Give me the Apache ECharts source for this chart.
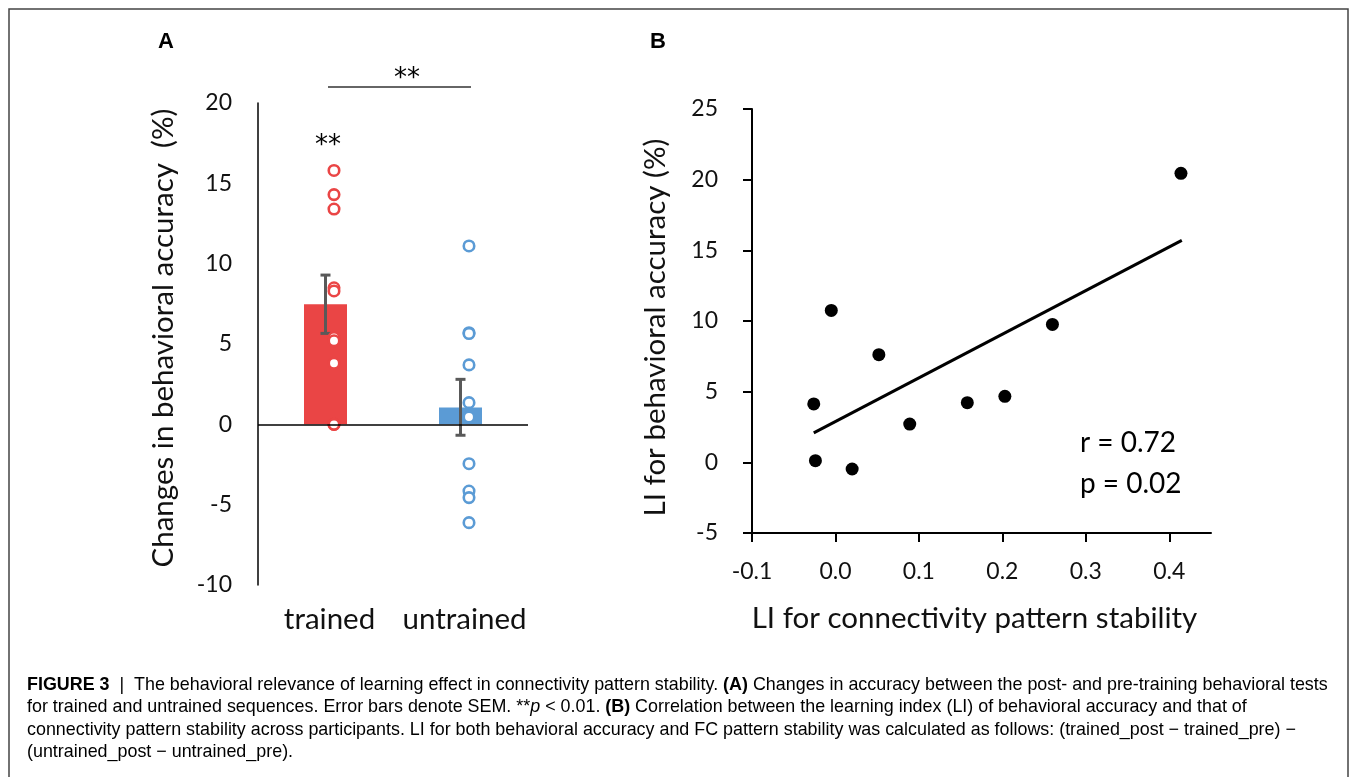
<!DOCTYPE html>
<html><head><meta charset="utf-8">
<script src="https://cdn.jsdelivr.net/npm/echarts@6/dist/echarts.min.js"></script>
<style>html,body{margin:0;padding:0;background:#fff}#c{width:1355px;height:777px}</style>
</head><body><div id="c"></div>
<script>
// ---- Panel A data ----
const categories = ['trained', 'untrained'];
const barMeans = [7.47, 1.04];
const semLow = [5.66, -0.68];
const semHigh = [9.29, 2.80];
const trainedPoints = [15.8, 14.3, 13.4, 8.5, 8.3, 5.4, 5.2, 3.8, 0, 0];
const untrainedPoints = [11.1, 5.7, 5.65, 3.7, 1.35, 0.46, -2.45, -4.15, -4.56, -6.12];
const yTicksA = [-10, -5, 0, 5, 10, 15, 20];
// ---- Panel B data ----
const liConnectivity = [0.414, -0.005, 0.052, 0.260, -0.026, -0.024, 0.020, 0.089, 0.158, 0.203];
const liBehavior = [20.45, 10.75, 7.62, 9.76, 4.13, 0.12, -0.47, 2.71, 4.22, 4.67];
const fitLineX = [-0.026, 0.415];
const fitLineY = [2.08, 15.7];
const xTicksB = [-0.1, 0.0, 0.1, 0.2, 0.3, 0.4];
const yTicksB = [-5, 0, 5, 10, 15, 20, 25];
const statText = ['r = 0.72', 'p = 0.02'];
// ---- Text ----
const panelLabels = ['A', 'B'];
const sigMark = '**';
const captionLines = [
  '{b|FIGURE 3}{n|  |  The behavioral relevance of learning effect in connectivity pattern stability. }{b|(A)}{n| Changes in accuracy between the post- and pre-training behavioral tests}',
  '{n|for trained and untrained sequences. Error bars denote SEM. **}{i|p}{n| < 0.01. }{b|(B)}{n| Correlation between the learning index (LI) of behavioral accuracy and that of}',
  '{n|connectivity pattern stability across participants. LI for both behavioral accuracy and FC pattern stability was calculated as follows: (trained_post \u2212 trained_pre) \u2212}',
  '{n|(untrained_post \u2212 untrained_pre).}'
];

const RED = '#EA4545', BLUE = '#5B9BD5';
const FONT = 'Lato';
const TITLE_SIZE = 29.5;
const chart = echarts.init(document.getElementById('c'), null, {renderer: 'canvas'});

const capFont = 'Liberation Sans';
const capSize = 17.9;
const capRich = {
  n: {fontFamily: capFont, fontSize: capSize, color: '#3a3a3a'},
  b: {fontFamily: capFont, fontSize: capSize, color: '#3a3a3a', fontWeight: 'bold'},
  i: {fontFamily: capFont, fontSize: capSize, color: '#3a3a3a', fontStyle: 'italic'}
};

const graphics = [
  {type: 'polyline', shape: {points: [[9, 780], [9, 9], [1348, 9], [1348, 780]]}, style: {stroke: '#444', lineWidth: 1.5, fill: null}},
  {type: 'text', left: 158, top: 31, style: {text: panelLabels[0], font: 'bold 22px "Liberation Sans"', fill: '#000'}},
  {type: 'text', left: 650, top: 31, style: {text: panelLabels[1], font: 'bold 22px "Liberation Sans"', fill: '#000'}},
  {type: 'line', shape: {x1: 328, y1: 87, x2: 471, y2: 87}, style: {stroke: '#333', lineWidth: 1.5}},
  {type: 'text', x: 407, y: 79, style: {text: sigMark, font: '26px "DejaVu Sans"', fill: '#000', align: 'center', verticalAlign: 'middle'}},
  {type: 'text', x: 328, y: 146, style: {text: sigMark, font: '26px "DejaVu Sans"', fill: '#000', align: 'center', verticalAlign: 'middle'}},
  {type: 'text', left: 1080, top: 429, style: {text: statText[0], font: '28px Lato', fill: '#000'}},
  {type: 'text', left: 1080, top: 470, style: {text: statText[1], font: '28px Lato', fill: '#000'}}
];
captionLines.forEach((ln, k) => {
  graphics.push({type: 'text', left: 27, top: 676 + k * 22.4, style: {text: ln, rich: capRich}});
});

const option = {
  animation: false,
  backgroundColor: '#fff',
  grid: [
    {left: 258, top: 103, width: 270, height: 482, containLabel: false},
    {left: 752, top: 109, width: 459, height: 424, containLabel: false}
  ],
  xAxis: [
    {type: 'category', gridIndex: 0, data: categories,
     axisLine: {show: false, onZero: false}, axisTick: {show: false},
     axisLabel: {interval: 0, margin: 19, fontFamily: FONT, fontSize: TITLE_SIZE, color: '#111', padding: [0, 0, 0, 8]}},
    {type: 'value', gridIndex: 1, min: -0.1, max: 0.45, interval: 0.1,
     name: 'LI for connectivity pattern stability', nameLocation: 'middle', nameGap: 70,
     nameTextStyle: {fontFamily: FONT, fontSize: TITLE_SIZE, color: '#111', padding: [0, 14, 0, 0]},
     axisLine: {onZero: false, lineStyle: {color: '#000', width: 2}},
     axisTick: {show: true, length: 9, lineStyle: {color: '#000', width: 2}, customValues: xTicksB},
     axisLabel: {margin: 27, fontFamily: FONT, fontSize: 23, color: '#111', customValues: xTicksB,
                 formatter: v => v.toFixed(1)},
     splitLine: {show: false}}
  ],
  yAxis: [
    {type: 'value', gridIndex: 0, min: -10, max: 20, interval: 5,
     name: 'Changes in behavioral accuracy  (%)', nameLocation: 'middle', nameGap: 80,
     nameTextStyle: {fontFamily: FONT, fontSize: TITLE_SIZE, color: '#111', padding: [0, 0, 0, 12]},
     axisLine: {show: true, onZero: false, lineStyle: {color: '#000', width: 1.5}},
     axisTick: {show: false},
     axisLabel: {margin: 26, fontFamily: FONT, fontSize: 23, color: '#111'},
     splitLine: {show: false}},
    {type: 'value', gridIndex: 1, min: -5, max: 25, interval: 5,
     name: 'LI for behavioral accuracy (%)', nameLocation: 'middle', nameGap: 82,
     nameTextStyle: {fontFamily: FONT, fontSize: TITLE_SIZE, color: '#111', padding: [0, 13, 0, 0]},
     axisLine: {show: true, onZero: false, lineStyle: {color: '#000', width: 2}},
     axisTick: {show: true, length: 9, lineStyle: {color: '#000', width: 2}},
     axisLabel: {margin: 34, fontFamily: FONT, fontSize: 23, color: '#111'},
     splitLine: {show: false}}
  ],
  series: [
    {type: 'bar', xAxisIndex: 0, yAxisIndex: 0, barWidth: 43, z: 2,
     data: barMeans.map((v, i) => ({value: v, itemStyle: {color: i === 0 ? RED : BLUE}})),
     markLine: {silent: true, symbol: 'none', label: {show: false},
                lineStyle: {color: '#000', width: 1.5, type: 'solid'}, data: [{yAxis: 0}]}},
    {type: 'custom', xAxisIndex: 0, yAxisIndex: 0, z: 3,
     encode: {x: 0, y: [1, 2]},
     data: categories.map((c, i) => [i, semLow[i], semHigh[i]]),
     renderItem: function (params, api) {
       const lo = api.coord([api.value(0), api.value(1)]);
       const hi = api.coord([api.value(0), api.value(2)]);
       const w = 5;
       const st = {stroke: '#595959', lineWidth: 3};
       return {type: 'group', children: [
         {type: 'line', shape: {x1: lo[0], y1: lo[1], x2: hi[0], y2: hi[1]}, style: st},
         {type: 'line', shape: {x1: lo[0] - w, y1: lo[1], x2: lo[0] + w, y2: lo[1]}, style: st},
         {type: 'line', shape: {x1: hi[0] - w, y1: hi[1], x2: hi[0] + w, y2: hi[1]}, style: st}
       ]};
     }},
    {type: 'scatter', xAxisIndex: 0, yAxisIndex: 0, z: 4, symbol: 'circle', symbolSize: 10.5, symbolOffset: [8.5, 0],
     itemStyle: {color: '#fff', borderColor: RED, borderWidth: 2.6, opacity: 1},
     data: trainedPoints.map(v => [0, v])},
    {type: 'scatter', xAxisIndex: 0, yAxisIndex: 0, z: 4, symbol: 'circle', symbolSize: 10.5, symbolOffset: [8.5, 0],
     itemStyle: {color: '#fff', borderColor: BLUE, borderWidth: 2.6, opacity: 1},
     data: untrainedPoints.map(v => [1, v])},
    {type: 'scatter', xAxisIndex: 1, yAxisIndex: 1, z: 4, symbol: 'circle', symbolSize: 13,
     itemStyle: {color: '#000', opacity: 1},
     data: liConnectivity.map((x, i) => [x, liBehavior[i]])},
    {type: 'line', xAxisIndex: 1, yAxisIndex: 1, z: 3, showSymbol: false, symbol: 'none',
     lineStyle: {color: '#000', width: 3},
     data: fitLineX.map((x, i) => [x, fitLineY[i]])}
  ],
  graphic: graphics
};
chart.setOption(option);
</script>
</body></html>
